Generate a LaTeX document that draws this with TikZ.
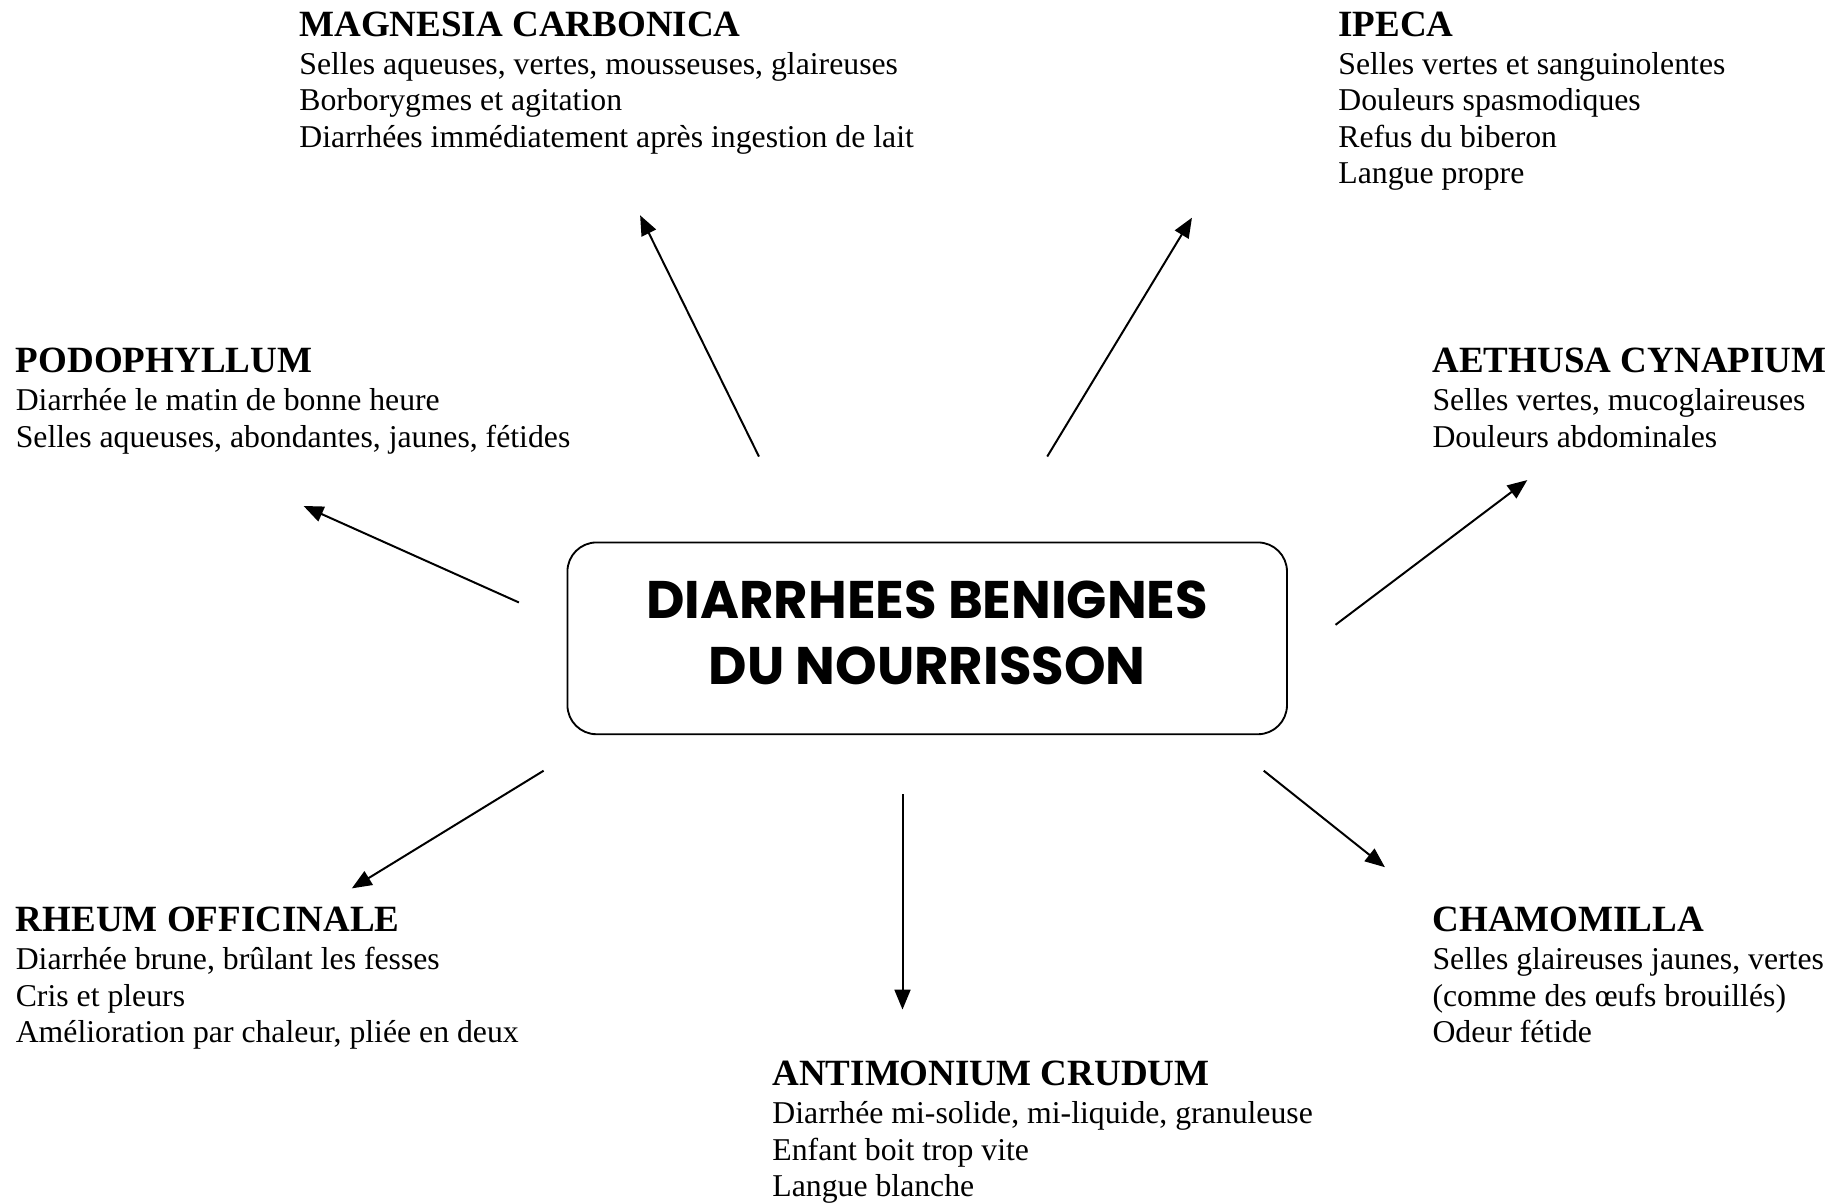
\documentclass[tikz,border=0pt]{standalone}
\usepackage{fontspec}
\setmainfont{Liberation Serif}
\newfontfamily\comicfont{Poppins}
\usepackage{tikz}
\usetikzlibrary{arrows.meta}
\tikzstyle{remede} = [anchor=north west, inner sep=0pt, align=left, font=\fontsize{12}{13.8}\selectfont]
\tikzstyle{centre} = [rectangle, rounded corners=11pt, minimum width=272pt, minimum height=72.5pt, text centered, draw=black, line width=0.7pt, align=center, font=\comicfont\bfseries\fontsize{20}{25}\selectfont]
\tikzstyle{arrow} = [line width=0.75pt, -{Triangle[length=7.5pt,width=6pt]}]
\newcommand{\titre}[1]{{\fontsize{14}{16}\selectfont\bfseries #1}\\[0.5pt]}

\begin{document}
\begin{tikzpicture}[x=0.4448pt, y=-0.4448pt]
\useasboundingbox (0,0) rectangle (1568,1022);
\node (diar) [centre] at (788,542.5) {DIARRHEES BENIGNES\\DU NOURRISSON\rule[-4.5pt]{0pt}{4.5pt}};

\node (magn) [remede] at (254,9.5) {\titre{MAGNESIA CARBONICA}Selles aqueuses, vertes, mousseuses, glaireuses\\Borborygmes et agitation\\Diarrhées immédiatement après ingestion de lait};
\node (ipec) [remede] at (1137,9.5) {\titre{IPECA}Selles vertes et sanguinolentes\\Douleurs spasmodiques\\Refus du biberon\\Langue propre};
\node (podo) [remede] at (13,295.5) {\titre{PODOPHYLLUM}Diarrhée le matin de bonne heure\\Selles aqueuses, abondantes, jaunes, fétides};
\node (aeth) [remede] at (1217,295.5) {\titre{AETHUSA CYNAPIUM}Selles vertes, mucoglaireuses\\Douleurs abdominales};
\node (rheu) [remede] at (13,770.5) {\titre{RHEUM OFFICINALE}Diarrhée brune, brûlant les fesses\\Cris et pleurs\\Amélioration par chaleur, pliée en deux};
\node (cham) [remede] at (1217,770.5) {\titre{CHAMOMILLA}Selles glaireuses jaunes, vertes\\(comme des œufs brouillés)\\Odeur fétide};
\node (anti) [remede] at (656,901.5) {\titre{ANTIMONIUM CRUDUM}Diarrhée mi-solide, mi-liquide, granuleuse\\Enfant boit trop vite\\Langue blanche};

% departs et pointes des fleches
\coordinate (dMagn) at (645,388);  \coordinate (pMagn) at (544,183);
\coordinate (dIpec) at (890,388);  \coordinate (pIpec) at (1013,185);
\coordinate (dPodo) at (441,512);  \coordinate (pPodo) at (258,430);
\coordinate (dAeth) at (1135,531); \coordinate (pAeth) at (1298,408);
\coordinate (dRheu) at (462,655);  \coordinate (pRheu) at (299,755);
\coordinate (dAnti) at (767,675);  \coordinate (pAnti) at (767,858);
\coordinate (dCham) at (1074,655); \coordinate (pCham) at (1177,737);

\draw [arrow] (dMagn) -- (pMagn);
\draw [arrow] (dIpec) -- (pIpec);
\draw [arrow] (dPodo) -- (pPodo);
\draw [arrow] (dAeth) -- (pAeth);
\draw [arrow] (dRheu) -- (pRheu);
\draw [arrow] (dAnti) -- (pAnti);
\draw [arrow] (dCham) -- (pCham);
\end{tikzpicture}
\end{document}
